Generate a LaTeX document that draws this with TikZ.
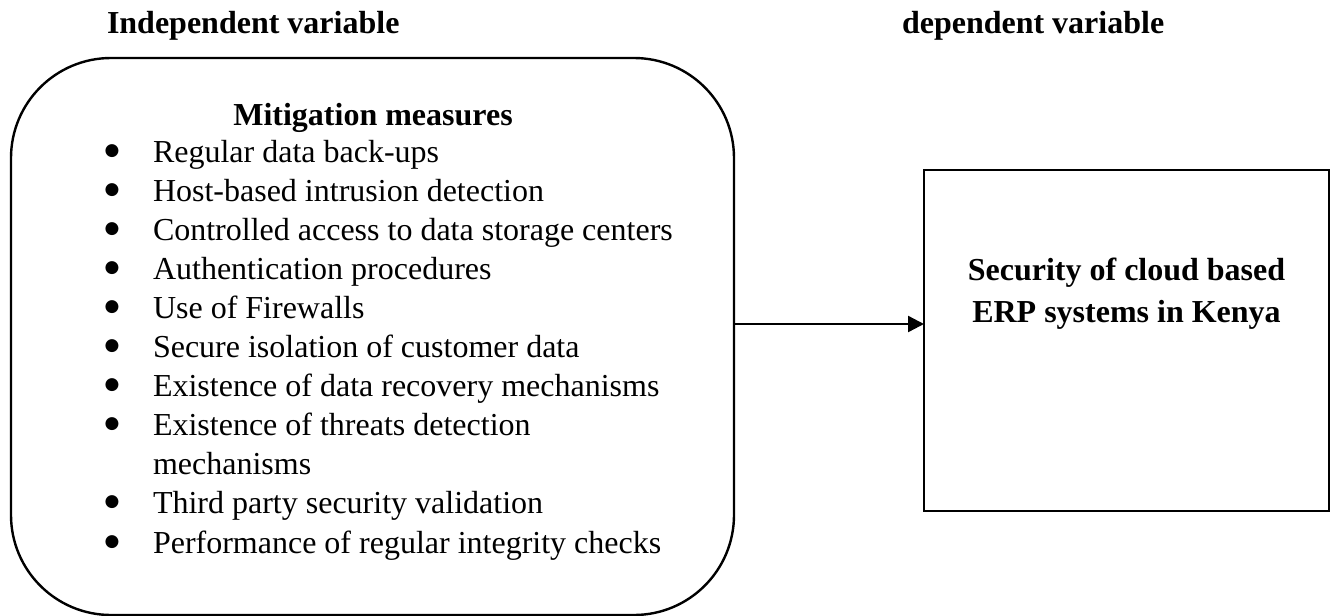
\documentclass[tikz,border=0pt]{standalone}
\usepackage{fontspec}
\setmainfont{Liberation Serif}
\newfontfamily\bulfont{DejaVu Sans}
\usetikzlibrary{arrows.meta}
\begin{document}
\begin{tikzpicture}[x=0.5pt,y=-0.5pt,
  every node/.style={inner sep=0pt,outer sep=0pt,font=\fontsize{16pt}{19pt}\selectfont},
  head/.style={anchor=base west,font=\fontsize{16pt}{19pt}\selectfont\bfseries},
  item/.style={anchor=base west},
  bul/.style={anchor=base,font=\bulfont\fontsize{8.5pt}{8.5pt}\selectfont},
  frame/.style={draw,line width=1.2pt},
  conn/.style={line width=1.2pt,-{Triangle[length=8pt,width=8pt]}}]
\useasboundingbox (0,0) rectangle (1334,616);
\node[head] (h1) at (107,33) {Independent variable};
\node[head] (h2) at (902,33) {dependent variable};
\node[frame,rounded corners=50pt,minimum width=361.5pt,minimum height=278.5pt] (box) at (372.5,336.5) {};
\node[frame,minimum width=202.5pt,minimum height=170.5pt] (rect) at (1126.5,340.5) {};
\node[anchor=base,font=\fontsize{16pt}{19pt}\selectfont\bfseries] (mt) at (373,125) {Mitigation measures};
\node[anchor=base,font=\fontsize{16pt}{19pt}\selectfont\bfseries] (r1) at (1126.5,280) {Security of cloud based};
\node[anchor=base,font=\fontsize{16pt}{19pt}\selectfont\bfseries] (r2) at (1126.5,322.7) {ERP systems in Kenya};
\foreach \i/\t/\b in {0/Regular data back-ups/1,
  1/Host-based intrusion detection/1,
  2/Controlled access to data storage centers/1,
  3/Authentication procedures/1,
  4/Use of Firewalls/1,
  5/Secure isolation of customer data/1,
  6/Existence of data recovery mechanisms/1,
  7/Existence of threats detection/1,
  8/mechanisms/0,
  9/Third party security validation/1,
  10/Performance of regular integrity checks/1}{
  \node[item] (l\i) at (153,162+39.1*\i) {\t};
  \ifnum\b=1 \node[bul] (b\i) at (112,155+39.1*\i) {●};\fi
}
\draw[conn] (box.east |- 0,324) -- (rect.west |- 0,324);
\end{tikzpicture}
\end{document}
